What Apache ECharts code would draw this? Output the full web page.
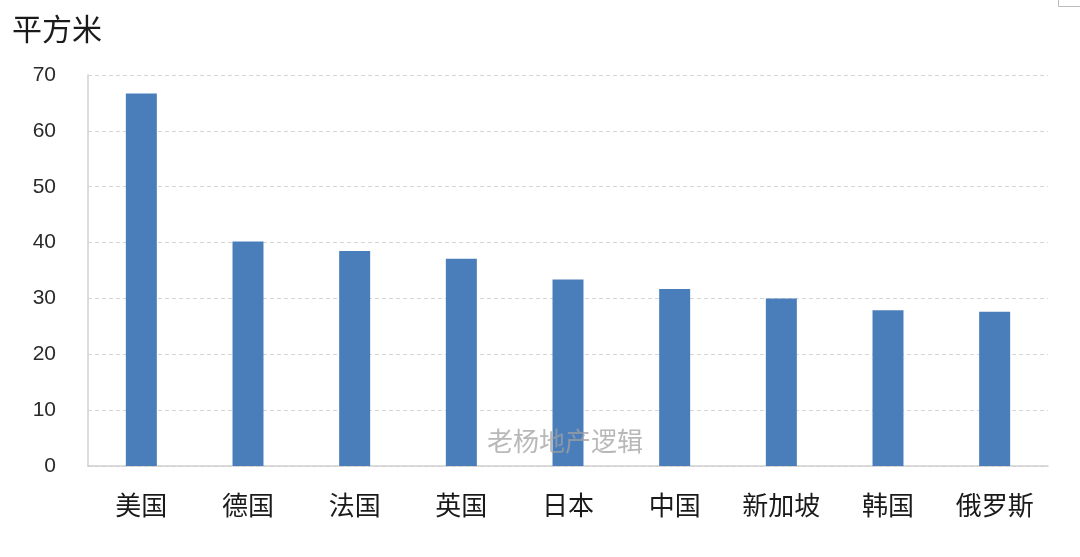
<!DOCTYPE html>
<html><head><meta charset="utf-8">
<script src="https://cdn.jsdelivr.net/npm/echarts@6/dist/echarts.min.js"></script>
<style>html,body{margin:0;padding:0;background:#fff;}#c{width:1080px;height:557px;}</style>
</head><body><div id="c"></div>
<script>
const categories = ['美国','德国','法国','英国','日本','中国','新加坡','韩国','俄罗斯'];
const values = [66.7, 40.2, 38.5, 37.1, 33.4, 31.7, 30.0, 27.9, 27.6];
const yTicks = [0, 10, 20, 30, 40, 50, 60, 70];
const unitLabel = '平方米';
const watermark = '老杨地产逻辑';

const chart = echarts.init(document.getElementById('c'));
chart.setOption({
  backgroundColor: '#fff',
  animation: false,
  grid: {left: 88, right: 32, top: 75, bottom: 91, containLabel: false},
  xAxis: {
    type: 'category', data: categories,
    axisLine: {lineStyle: {color: '#d0d0d0', width: 1.5}},
    axisTick: {show: false},
    axisLabel: {color: '#1a1a1a', fontSize: 26, margin: 26, fontFamily: 'Noto Sans CJK SC'}
  },
  yAxis: {
    type: 'value', min: yTicks[0], max: yTicks[yTicks.length-1], interval: 10,
    axisLine: {show: true, lineStyle: {color: '#d0d0d0', width: 1.5}},
    axisTick: {show: false},
    axisLabel: {color: '#2a2a2a', fontSize: 21, margin: 32, fontFamily: 'Liberation Sans'},
    splitLine: {lineStyle: {color: '#d6d6d6', type: [4, 3], width: 1.2}}
  },
  series: [{
    type: 'bar', data: values, barWidth: 31,
    itemStyle: {color: '#4a7ebb'}
  }],
  graphic: [
    {type: 'text', left: 12, top: 14, style: {text: unitLabel, fontSize: 30, fill: '#1a1a1a', fontFamily: 'Noto Sans CJK SC'}},
    {type: 'text', left: 487, top: 428, z: 10, style: {text: watermark, fontSize: 26, fill: 'rgba(160,160,160,0.75)', fontFamily: 'Noto Sans CJK SC'}},
    {type: 'rect', left: 1056, top: -4, shape: {width: 30, height: 8}, style: {fill: 'none', stroke: '#bbb', lineWidth: 1}}
  ]
});
</script></body></html>
